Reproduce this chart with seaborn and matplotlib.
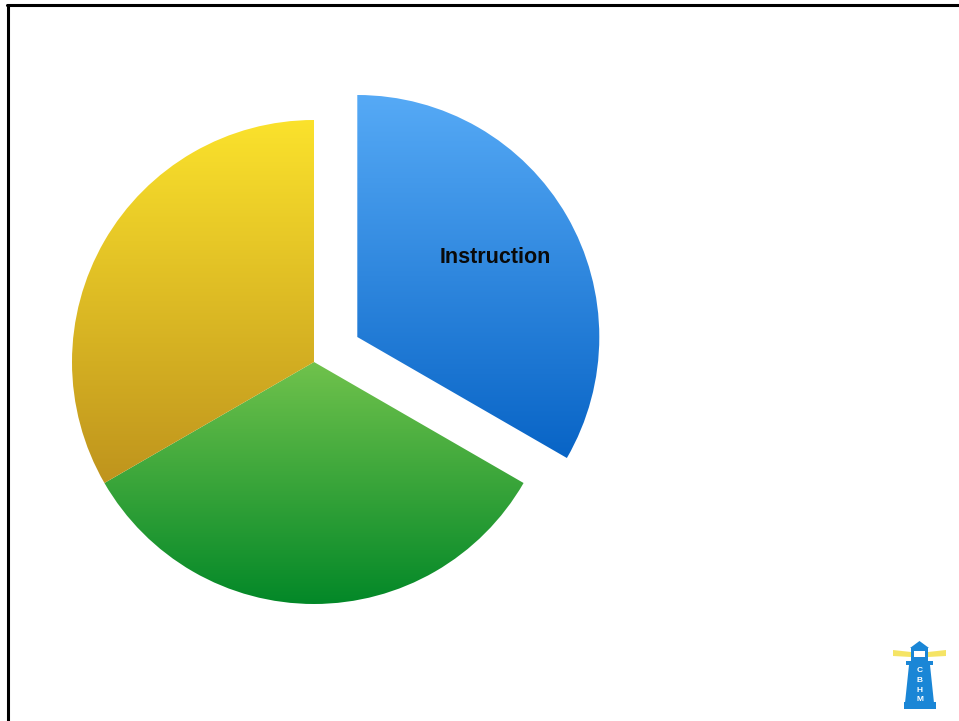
import numpy as np
import matplotlib
matplotlib.use("Agg")
import matplotlib.pyplot as plt
from matplotlib.colors import LinearSegmentedColormap
from matplotlib.patches import Polygon, Rectangle
from matplotlib.lines import Line2D
import seaborn as sns

sns.set_theme(style="white")
plt.rcParams["font.family"] = ["Liberation Sans", "DejaVu Sans"]

# Slice data (clockwise from the top)
labels = ["Instruction", "", ""]
values = [1, 1, 1]
# top and bottom colours of each slice's vertical gradient
top_colors = ["#56AAF6", "#70C24C", "#FBE22C"]
bottom_colors = ["#0864C6", "#038828", "#BF941D"]

W, H = 959, 721
fig = plt.figure(figsize=(W / 100, H / 100), dpi=100)
ax = fig.add_axes([0, 0, 1, 1])

R = 242
cx, cy = 314, H - 362
explode = [50, 0, 0]  # offset in axis units (pixels here)

wedges, texts = ax.pie(values, labels=labels, explode=explode, startangle=90,
                       counterclock=False, radius=R, center=(cx, cy),
                       labeldistance=0.66, frame=True,
                       wedgeprops=dict(facecolor="none", edgecolor="none"),
                       textprops=dict(fontsize=15.5, fontweight="bold", color="#0A0A0A"))
ax.set_xlim(0, W)
ax.set_ylim(0, H)
ax.set_aspect("equal")
ax.axis("off")

for t in texts:
    t.set_ha("center")
    t.set_va("center")
    t.set_zorder(5)

# Fill each wedge with its own vertical gradient
grad = np.linspace(0, 1, 256).reshape(-1, 1)
renderer = fig.canvas.get_renderer()
inv = ax.transData.inverted()
for w, c0, c1 in zip(wedges, top_colors, bottom_colors):
    cmap = LinearSegmentedColormap.from_list("g", [c0, c1])
    wb = w.get_window_extent(renderer=renderer)
    (x0, y0), (x1, y1) = inv.transform([[wb.x0, wb.y0], [wb.x1, wb.y1]])
    im = ax.imshow(grad, cmap=cmap, extent=(x0, x1, y0, y1), origin="upper",
                   aspect="auto", zorder=1, interpolation="bilinear")
    im.set_clip_path(w)

ax.set_xlim(0, W)
ax.set_ylim(0, H)

# Frame lines along the top and left edges
fig.add_artist(Line2D([7 / W, 1], [1 - 5 / H, 1 - 5 / H], color="black", lw=2.2,
                      transform=fig.transFigure))
fig.add_artist(Line2D([8 / W, 8 / W], [0, 1 - 5 / H], color="black", lw=2.2,
                      transform=fig.transFigure))

# Lighthouse logo in the bottom-right corner
lb = "#1A86D6"


def Y(y):
    return H - y


# light beams
ax.add_patch(Polygon([(893, Y(650)), (911, Y(652)), (911, Y(657)), (893, Y(656))],
                     closed=True, facecolor="#F4E04A", edgecolor="none", alpha=0.85, zorder=6))
ax.add_patch(Polygon([(928, Y(652)), (946, Y(650)), (946, Y(656)), (928, Y(657))],
                     closed=True, facecolor="#F4E04A", edgecolor="none", alpha=0.85, zorder=6))
# roof
ax.add_patch(Polygon([(910, Y(648)), (919.5, Y(641)), (929, Y(648))], closed=True,
                     facecolor=lb, edgecolor="none", zorder=7))
# lantern
ax.add_patch(Rectangle((911, Y(661)), 17, 13, facecolor=lb, edgecolor="none", zorder=7))
ax.add_patch(Rectangle((914, Y(657)), 11, 6, facecolor="#FFFFFF", edgecolor="none", zorder=8))
# gallery
ax.add_patch(Rectangle((906, Y(665)), 27, 4, facecolor=lb, edgecolor="none", zorder=7))
# tower
ax.add_patch(Polygon([(909, Y(665)), (930, Y(665)), (934, Y(703)), (905, Y(703))],
                     closed=True, facecolor=lb, edgecolor="none", zorder=7))
ax.add_patch(Rectangle((904, Y(709)), 32, 7, facecolor=lb, edgecolor="none", zorder=7))
for i, ch in enumerate("CBHM"):
    ax.text(919.5, Y(671 + i * 9.5), ch, color="white", fontsize=6, fontweight="bold",
            ha="center", va="center", zorder=9)

fig.savefig("out.png", dpi=100, facecolor="white")
